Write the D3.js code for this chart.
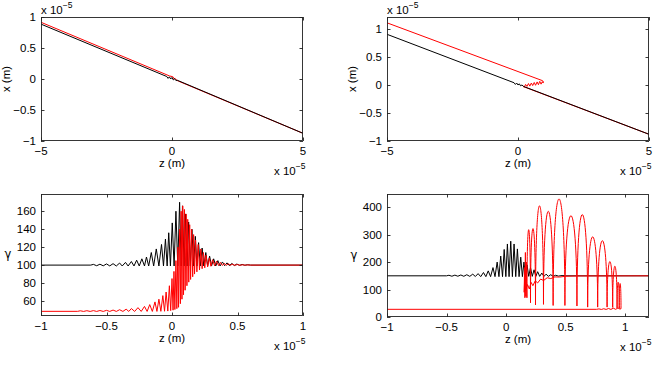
<!DOCTYPE html>
<html><head><meta charset="utf-8">
<script src="https://cdn.jsdelivr.net/npm/d3@7"></script>
<style>
html,body{margin:0;padding:0;background:#fff;}
svg{display:block;font-family:"Liberation Sans",Arial,Helvetica,sans-serif;}
</style></head>
<body><svg id="c" width="662" height="366"></svg>
<script>
// ---------- DATA (z and x in units of 1e-5 m) ----------
const tlXTicks = [-5, 0, 5];
const tlYTicks = [-1, -0.5, 0, 0.5, 1];
const trYTicks = [-1, -0.5, 0, 0.5, 1];
const blXTicks = [-1, -0.5, 0, 0.5, 1];
const blYTicks = [60, 80, 100, 120, 140, 160];
const brYTicks = [0, 100, 200, 300, 400];

// top-left trajectories [z, x]
const tlBlack = [[-5,0.885],[-0.2,0.04],[-0.15,0.01],[-0.1,0.035],[-0.05,0.0],[0,0.025],[0.05,-0.015],[0.1,0.005],[0.15,-0.025],[0.2,-0.02],[5,-0.876]];
const tlRed = [[-5,0.915],[-0.1,0.05],[0,0.04],[0.05,0.03],[0.08,0.0],[0.12,0.01],[0.18,-0.02],[0.25,-0.035],[5,-0.876]];
// top-right trajectories [z, x]
const trBlack = [[-5,0.905],[-0.15,0.04],[-0.1,0.01],[-0.05,0.035],[0,0.0],[0.05,0.02],[0.1,-0.015],[0.15,0.0],[0.22,-0.027],[5,-0.88]];
const trRed = [[-5,1.11],[0.93,0.078],[0.965,0.065],[0.96,0.035],[0.93,0.06],[0.88,0.015],[0.83,0.065],[0.78,0.005],[0.73,0.055],[0.67,-0.005],[0.62,0.045],[0.56,-0.01],[0.51,0.035],[0.45,-0.02],[0.4,0.025],[0.34,-0.025],[0.29,0.01],[0.24,-0.035],[0.2,-0.028],[5,-0.88]];

// bottom-left gamma vs z [z, gamma]
const blBlack = [[-1,100],[-0.62,100],[-0.6,100.8],[-0.575,99.3],[-0.55,101],[-0.525,99.2],[-0.5,101.3],[-0.475,99.1],[-0.45,101.6],[-0.425,99],[-0.4,102.3],[-0.38,99],[-0.355,103],[-0.335,99],[-0.31,104],[-0.29,99],[-0.27,105.5],[-0.25,99],[-0.23,107],[-0.21,99],[-0.195,109],[-0.178,99],[-0.158,114],[-0.14,99],[-0.12,118],[-0.1,99],[-0.08,123],[-0.065,99],[-0.05,129],[-0.037,99],[-0.025,136],[-0.012,99],[0.002,147],[0.016,99],[0.03,160],[0.044,99],[0.058,170],[0.07,99],[0.08,166],[0.092,99],[0.103,157],[0.115,99],[0.127,148],[0.14,99],[0.152,140],[0.165,99],[0.178,132],[0.19,99],[0.203,125],[0.216,99],[0.23,119],[0.243,99],[0.258,114],[0.272,99],[0.287,110],[0.302,99],[0.318,107],[0.334,99],[0.35,105],[0.367,99],[0.385,103.5],[0.402,99.3],[0.42,102.5],[0.438,99.4],[0.457,101.8],[0.476,99.5],[0.495,101.2],[0.515,99.7],[0.535,100.7],[0.555,99.8],[0.575,100.4],[0.6,100],[1,100]];
const blRed = [[-1,48.5],[-0.72,48.5],[-0.7,49.1],[-0.675,48.4],[-0.65,49.2],[-0.625,48.4],[-0.6,49.3],[-0.575,48.4],[-0.55,49.4],[-0.525,48.4],[-0.5,49.6],[-0.475,48.4],[-0.45,49.9],[-0.425,48.4],[-0.4,50.3],[-0.375,48.4],[-0.35,50.9],[-0.33,48.4],[-0.31,51.6],[-0.285,48.4],[-0.26,52.6],[-0.235,48.4],[-0.21,54],[-0.19,48.4],[-0.17,56],[-0.15,48.4],[-0.13,59],[-0.115,48.4],[-0.1,62],[-0.085,48.5],[-0.07,66],[-0.057,48.6],[-0.045,70],[-0.032,48.8],[-0.02,77],[-0.01,49.3],[0,85],[0.008,49.8],[0.015,93],[0.022,50.5],[0.03,105],[0.037,51.5],[0.045,120],[0.05,53],[0.058,140],[0.064,57],[0.07,160],[0.076,62],[0.082,166],[0.088,67],[0.095,162],[0.1,72],[0.108,157],[0.114,77],[0.12,151],[0.128,81],[0.135,145],[0.142,84],[0.15,140],[0.158,87],[0.165,134],[0.172,90],[0.18,128],[0.19,92.5],[0.2,123],[0.21,94.5],[0.22,118],[0.23,96],[0.24,114],[0.25,97],[0.26,111],[0.272,98],[0.285,108],[0.297,98.7],[0.31,106],[0.325,99.2],[0.34,104.5],[0.355,99.5],[0.37,103],[0.385,99.6],[0.4,102],[0.415,99.7],[0.43,101.5],[0.445,99.7],[0.46,101],[0.48,99.8],[0.5,100.6],[0.52,99.8],[0.54,100.4],[0.56,99.9],[0.58,100.2],[0.6,100],[1,100]];

// bottom-right gamma vs z [z, gamma]
const brBlack = [[-1,150],[-0.5,150],[-0.48,152],[-0.455,148.5],[-0.43,152.5],[-0.405,148.5],[-0.38,153],[-0.355,148.3],[-0.33,154],[-0.305,148],[-0.28,156],[-0.258,147.5],[-0.235,158],[-0.213,147],[-0.19,162],[-0.17,147],[-0.15,168],[-0.13,147],[-0.11,180],[-0.093,147],[-0.075,200],[-0.06,147],[-0.045,222],[-0.03,147],[-0.016,246],[-0.002,147],[0.011,266],[0.025,147],[0.039,276],[0.053,147],[0.067,266],[0.081,147],[0.095,248],[0.109,147],[0.123,218],[0.137,147],[0.15,200],[0.163,147],[0.176,190],[0.19,148],[0.205,180],[0.22,148],[0.235,172],[0.25,148],[0.265,165],[0.282,148],[0.3,160],[0.318,148],[0.336,156],[0.355,148],[0.375,154],[0.395,148],[0.415,152],[0.44,149],[0.47,151],[0.5,150],[1.2,150]];
const brRedBase = [[-1,28],[0.76,28],[0.78,29.5],[0.8,27.5],[0.82,30],[0.84,27.5],[0.86,31],[0.88,27.5],[0.9,32],[0.92,28],[0.94,33],[0.955,29],[0.965,30]];
const brRedTroughZ = [0.175,0.205,0.247,0.314,0.395,0.494,0.595,0.685,0.769,0.848,0.895,0.932,0.95,0.965];
const brRedTroughG = [70,52,44,46,42,42,40,36,36,36,35,33,31,30];
const brRedPeakG = [318,322,405,385,430,369,373,292,278,202,185,127,122];
const brRedSpikes = [[0.175,70],[0.17,200],[0.166,75],[0.162,235],[0.158,70],[0.155,180],[0.152,90],[0.156,140],[0.16,95]];
const brRedRise = [[0.16,95],[0.18,118],[0.195,102],[0.21,126],[0.225,114],[0.245,132],[0.265,124],[0.29,138],[0.315,133],[0.345,143],[0.375,140],[0.41,146],[0.45,145.5],[0.5,148.5],[0.6,149.5],[1.2,150]];

// ---------- DRAW ----------
const svg = d3.select("#c");
const fmt = v => (v < 0 ? "\u2212" : "") + String(Math.abs(v));

function panel(o) {
  const x = d3.scaleLinear().domain(o.xd).range([o.l, o.r]);
  const y = d3.scaleLinear().domain(o.yd).range([o.b, o.t]);
  const g = svg.append("g");
  const clipId = "clip" + o.id;
  g.append("clipPath").attr("id", clipId).append("rect")
    .attr("x", o.l).attr("y", o.t).attr("width", o.r - o.l).attr("height", o.b - o.t);
  const plot = g.append("g").attr("clip-path", `url(#${clipId})`);
  o.draw(plot, x, y);
  const tl = 3.5;
  const ax = g.append("g").attr("stroke", "#222").attr("stroke-width", 0.9).attr("fill", "none");
  ax.append("rect").attr("x", o.l + 0.5).attr("y", o.t + 0.5).attr("width", o.r - o.l - 1).attr("height", o.b - o.t - 1);
  o.xt.forEach(v => {
    const px = Math.round(x(v)) + 0.5;
    ax.append("line").attr("x1", px).attr("x2", px).attr("y1", o.b).attr("y2", o.b - tl);
    ax.append("line").attr("x1", px).attr("x2", px).attr("y1", o.t).attr("y2", o.t + tl);
    g.append("text").attr("x", x(v)).attr("y", o.b + 14).attr("text-anchor", "middle")
      .attr("font-size", 11.5).text(fmt(v));
  });
  o.yt.forEach(v => {
    const py = Math.round(y(v)) + 0.5;
    ax.append("line").attr("x1", o.l).attr("x2", o.l + tl).attr("y1", py).attr("y2", py);
    ax.append("line").attr("x1", o.r).attr("x2", o.r - tl).attr("y1", py).attr("y2", py);
    g.append("text").attr("x", o.l - 5).attr("y", y(v) + 4).attr("text-anchor", "end")
      .attr("font-size", 11.5).text(fmt(v));
  });
  g.append("text").attr("x", (o.l + o.r) / 2).attr("y", o.b + 25.5).attr("text-anchor", "middle")
    .attr("font-size", 11.5).text("z (m)");
  if (o.ylabRot) {
    g.append("text").attr("transform", `translate(${o.l - 31},${(o.t + o.b) / 2}) rotate(-90)`)
      .attr("text-anchor", "middle").attr("font-size", 11.5).text(o.ylab);
  } else {
    g.append("text").attr("x", o.l - 33).attr("y", (o.t + o.b) / 2 + 3)
      .attr("text-anchor", "middle").attr("font-size", 11.5)
      .attr("font-family", "'DejaVu Sans',sans-serif").text(o.ylab);
  }
  const expo = (tx, ty) => {
    const t = g.append("text").attr("x", tx).attr("y", ty).attr("font-size", 11.5);
    t.append("tspan").text("x 10");
    t.append("tspan").attr("dy", -6).attr("font-size", 8.5).text("\u22125");
  };
  expo(o.r - 29, o.b + 34);
  if (o.topExp) expo(o.l, o.t - 3.5);
}

function line(plot, x, y, data, color) {
  plot.append("path").datum(data)
    .attr("d", d3.line().x(d => x(d[0])).y(d => y(d[1])))
    .attr("fill", "none").attr("stroke", color).attr("stroke-width", 1)
    .attr("stroke-linejoin", "round");
}

panel({id: 1, l: 41, r: 303, t: 17, b: 141, xd: [-5, 5], yd: [-1, 1], xt: tlXTicks, yt: tlYTicks,
  ylab: "x (m)", ylabRot: true, topExp: true,
  draw: (p, x, y) => { line(p, x, y, tlRed, "#ff0000"); line(p, x, y, tlBlack, "#000"); }});
panel({id: 2, l: 387, r: 649, t: 17, b: 141, xd: [-5, 5], yd: [-1, 1.214], xt: tlXTicks, yt: trYTicks,
  ylab: "x (m)", ylabRot: true, topExp: true,
  draw: (p, x, y) => { line(p, x, y, trRed, "#ff0000"); line(p, x, y, trBlack, "#000"); }});
panel({id: 3, l: 41, r: 303, t: 194, b: 316, xd: [-1, 1], yd: [43.3, 179.2], xt: blXTicks, yt: blYTicks,
  ylab: "\u03b3", ylabRot: false, topExp: false,
  draw: (p, x, y) => { line(p, x, y, blBlack, "#000"); line(p, x, y, blRed, "#ff0000"); }});
panel({id: 4, l: 387, r: 649, t: 194, b: 317, xd: [-1, 1.2], yd: [0, 448], xt: blXTicks, yt: brYTicks,
  ylab: "\u03b3", ylabRot: false, topExp: false,
  draw: (p, x, y) => {
    line(p, x, y, brBlack, "#000");
    line(p, x, y, brRedBase, "#ff0000");
    let d = `M${x(brRedTroughZ[0])},${y(brRedTroughG[0])}`;
    for (let i = 0; i < brRedPeakG.length; i++) {
      const z0 = brRedTroughZ[i], z1 = brRedTroughZ[i + 1];
      const g0 = brRedTroughG[i], g1 = brRedTroughG[i + 1];
      const base = (g0 + g1) / 2;
      const c = base + (brRedPeakG[i] - base) / 0.75;
      d += `C${x(z0)},${y(c)} ${x(z1)},${y(c)} ${x(z1)},${y(g1)}`;
    }
    p.append("path").attr("d", d).attr("fill", "none").attr("stroke", "#ff0000").attr("stroke-width", 1);
    line(p, x, y, brRedSpikes, "#ff0000");
    line(p, x, y, brRedRise, "#ff0000");
  }});
</script></body></html>
